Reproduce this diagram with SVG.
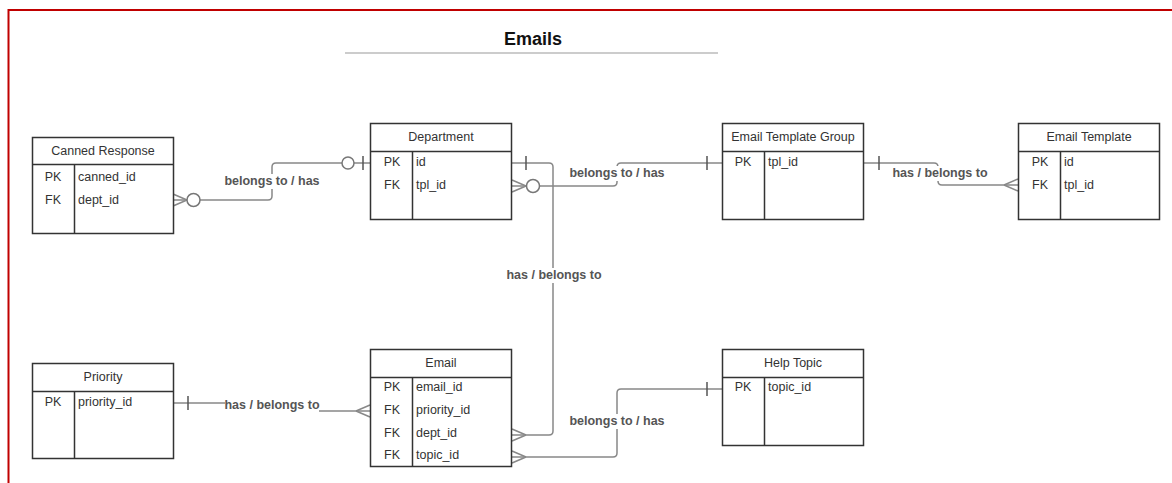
<svg xmlns="http://www.w3.org/2000/svg" width="1172" height="483" viewBox="0 0 1172 483">
<style>
.box{fill:#fff;stroke:#333;stroke-width:1.5}
.sep{stroke:#333;stroke-width:1.5;fill:none}
.t{font-family:"Liberation Sans",Arial,sans-serif;font-size:12.5px;fill:#333}
.tc{text-anchor:middle}
.conn{fill:none;stroke:#888;stroke-width:1.5}
.mk{fill:#fff;stroke:#777;stroke-width:1.5}
.bar{stroke:#555;stroke-width:1.5}
.lbl{font-family:"Liberation Sans",Arial,sans-serif;font-size:12.5px;font-weight:bold;fill:#555;text-anchor:middle}
.lbg{fill:#fff}
</style>
<rect width="1172" height="483" fill="#fff"/>
<path d="M1172 10 H8.5 V483" fill="none" stroke="#c00000" stroke-width="2"/>
<text x="533" y="45" font-family="Liberation Sans,Arial,sans-serif" font-size="18" font-weight="bold" fill="#111" text-anchor="middle">Emails</text>
<line x1="345" y1="53" x2="718" y2="53" stroke="#ccc" stroke-width="2"/>

<g id="connectors">
  <!-- Canned Response -> Department -->
  <path class="conn" d="M173 200 H187 M200 200 H268 Q272 200 272 196 V167 Q272 163 276 163 H342 M354 163 H370"/>
  <path class="conn" d="M173 194 L187 200 M173 206 L187 200"/>
  <circle class="mk" cx="193.5" cy="200" r="6.5"/>
  <circle class="mk" cx="348" cy="163" r="6"/>
  <line class="bar" x1="363" y1="156" x2="363" y2="170"/>
  <rect class="lbg" x="224" y="174" width="96" height="15"/>
  <text class="lbl" x="272" y="185">belongs to / has</text>

  <!-- Department PK -> Email dept_id -->
  <path class="conn" d="M512 163 H549 Q553 163 553 167 V431 Q553 435 549 435 H512"/>
  <line class="bar" x1="526" y1="156" x2="526" y2="170"/>
  <path class="conn" d="M512 429 L526 435 M512 441 L526 435"/>
  <rect class="lbg" x="506" y="268" width="96" height="15"/>
  <text class="lbl" x="554" y="279">has / belongs to</text>

  <!-- Department FK -> Email Template Group -->
  <path class="conn" d="M512 186 H526 M540 186 H613 Q617 186 617 182 V167 Q617 163 621 163 H722"/>
  <path class="conn" d="M512 180 L526 186 M512 192 L526 186"/>
  <circle class="mk" cx="533" cy="186" r="6.5"/>
  <line class="bar" x1="707" y1="156" x2="707" y2="170"/>
  <rect class="lbg" x="569" y="166" width="96" height="15"/>
  <text class="lbl" x="617" y="177">belongs to / has</text>

  <!-- Email Template Group -> Email Template -->
  <path class="conn" d="M863 163 H934 Q938 163 938 167 V181 Q938 185 942 185 H1018"/>
  <line class="bar" x1="879" y1="156" x2="879" y2="170"/>
  <path class="conn" d="M1018 179 L1004 185 M1018 191 L1004 185"/>
  <rect class="lbg" x="892" y="166" width="96" height="15"/>
  <text class="lbl" x="940" y="177">has / belongs to</text>

  <!-- Priority -> Email -->
  <path class="conn" d="M173 403 H225 M319 411 H370"/>
  <line class="bar" x1="188" y1="396" x2="188" y2="410"/>
  <path class="conn" d="M370 405 L356 411 M370 417 L356 411"/>
  <text class="lbl" x="272" y="409">has / belongs to</text>

  <!-- Email topic_id -> Help Topic -->
  <path class="conn" d="M512 457 H613 Q617 457 617 453 V393 Q617 389 621 389 H722"/>
  <path class="conn" d="M512 451 L526 457 M512 463 L526 457"/>
  <line class="bar" x1="707" y1="382" x2="707" y2="396"/>
  <rect class="lbg" x="569" y="414" width="96" height="15"/>
  <text class="lbl" x="617" y="425">belongs to / has</text>
</g>

<g id="canned-response">
  <rect class="box" x="32.5" y="137.5" width="141" height="96"/>
  <path class="sep" d="M32.5 164.5 H173.5 M74.5 164.5 V233.5"/>
  <text class="t tc" x="103" y="155">Canned Response</text>
  <text class="t tc" x="53" y="181">PK</text>
  <text class="t" x="78" y="181">canned_id</text>
  <text class="t tc" x="53" y="204">FK</text>
  <text class="t" x="78" y="204">dept_id</text>
</g>

<g id="department">
  <rect class="box" x="370.5" y="123.5" width="141" height="96"/>
  <path class="sep" d="M370.5 151.5 H511.5 M412.5 151.5 V219.5"/>
  <text class="t tc" x="441" y="141">Department</text>
  <text class="t tc" x="392" y="166">PK</text>
  <text class="t" x="416" y="166">id</text>
  <text class="t tc" x="392" y="189">FK</text>
  <text class="t" x="416" y="189">tpl_id</text>
</g>

<g id="email-template-group">
  <rect class="box" x="722.5" y="123.5" width="141" height="96"/>
  <path class="sep" d="M722.5 151.5 H863.5 M764.5 151.5 V219.5"/>
  <text class="t tc" x="793" y="141">Email Template Group</text>
  <text class="t tc" x="743" y="166">PK</text>
  <text class="t" x="768" y="166">tpl_id</text>
</g>

<g id="email-template">
  <rect class="box" x="1018.5" y="123.5" width="141" height="96"/>
  <path class="sep" d="M1018.5 151.5 H1159.5 M1060.5 151.5 V219.5"/>
  <text class="t tc" x="1089" y="141">Email Template</text>
  <text class="t tc" x="1040" y="166">PK</text>
  <text class="t" x="1064" y="166">id</text>
  <text class="t tc" x="1040" y="189">FK</text>
  <text class="t" x="1064" y="189">tpl_id</text>
</g>

<g id="priority">
  <rect class="box" x="32.5" y="363.5" width="141" height="95"/>
  <path class="sep" d="M32.5 391.5 H173.5 M74.5 391.5 V458.5"/>
  <text class="t tc" x="103" y="381">Priority</text>
  <text class="t tc" x="53" y="406">PK</text>
  <text class="t" x="78" y="406">priority_id</text>
</g>

<g id="email">
  <rect class="box" x="370.5" y="349.5" width="141" height="117"/>
  <path class="sep" d="M370.5 377.5 H511.5 M412.5 377.5 V466.5"/>
  <text class="t tc" x="441" y="367">Email</text>
  <text class="t tc" x="392" y="391">PK</text>
  <text class="t" x="416" y="391">email_id</text>
  <text class="t tc" x="392" y="414">FK</text>
  <text class="t" x="416" y="414">priority_id</text>
  <text class="t tc" x="392" y="437">FK</text>
  <text class="t" x="416" y="437">dept_id</text>
  <text class="t tc" x="392" y="459">FK</text>
  <text class="t" x="416" y="459">topic_id</text>
</g>

<g id="help-topic">
  <rect class="box" x="722.5" y="349.5" width="141" height="96"/>
  <path class="sep" d="M722.5 377.5 H863.5 M764.5 377.5 V445.5"/>
  <text class="t tc" x="793" y="367">Help Topic</text>
  <text class="t tc" x="743" y="391">PK</text>
  <text class="t" x="768" y="391">topic_id</text>
</g>
</svg>
